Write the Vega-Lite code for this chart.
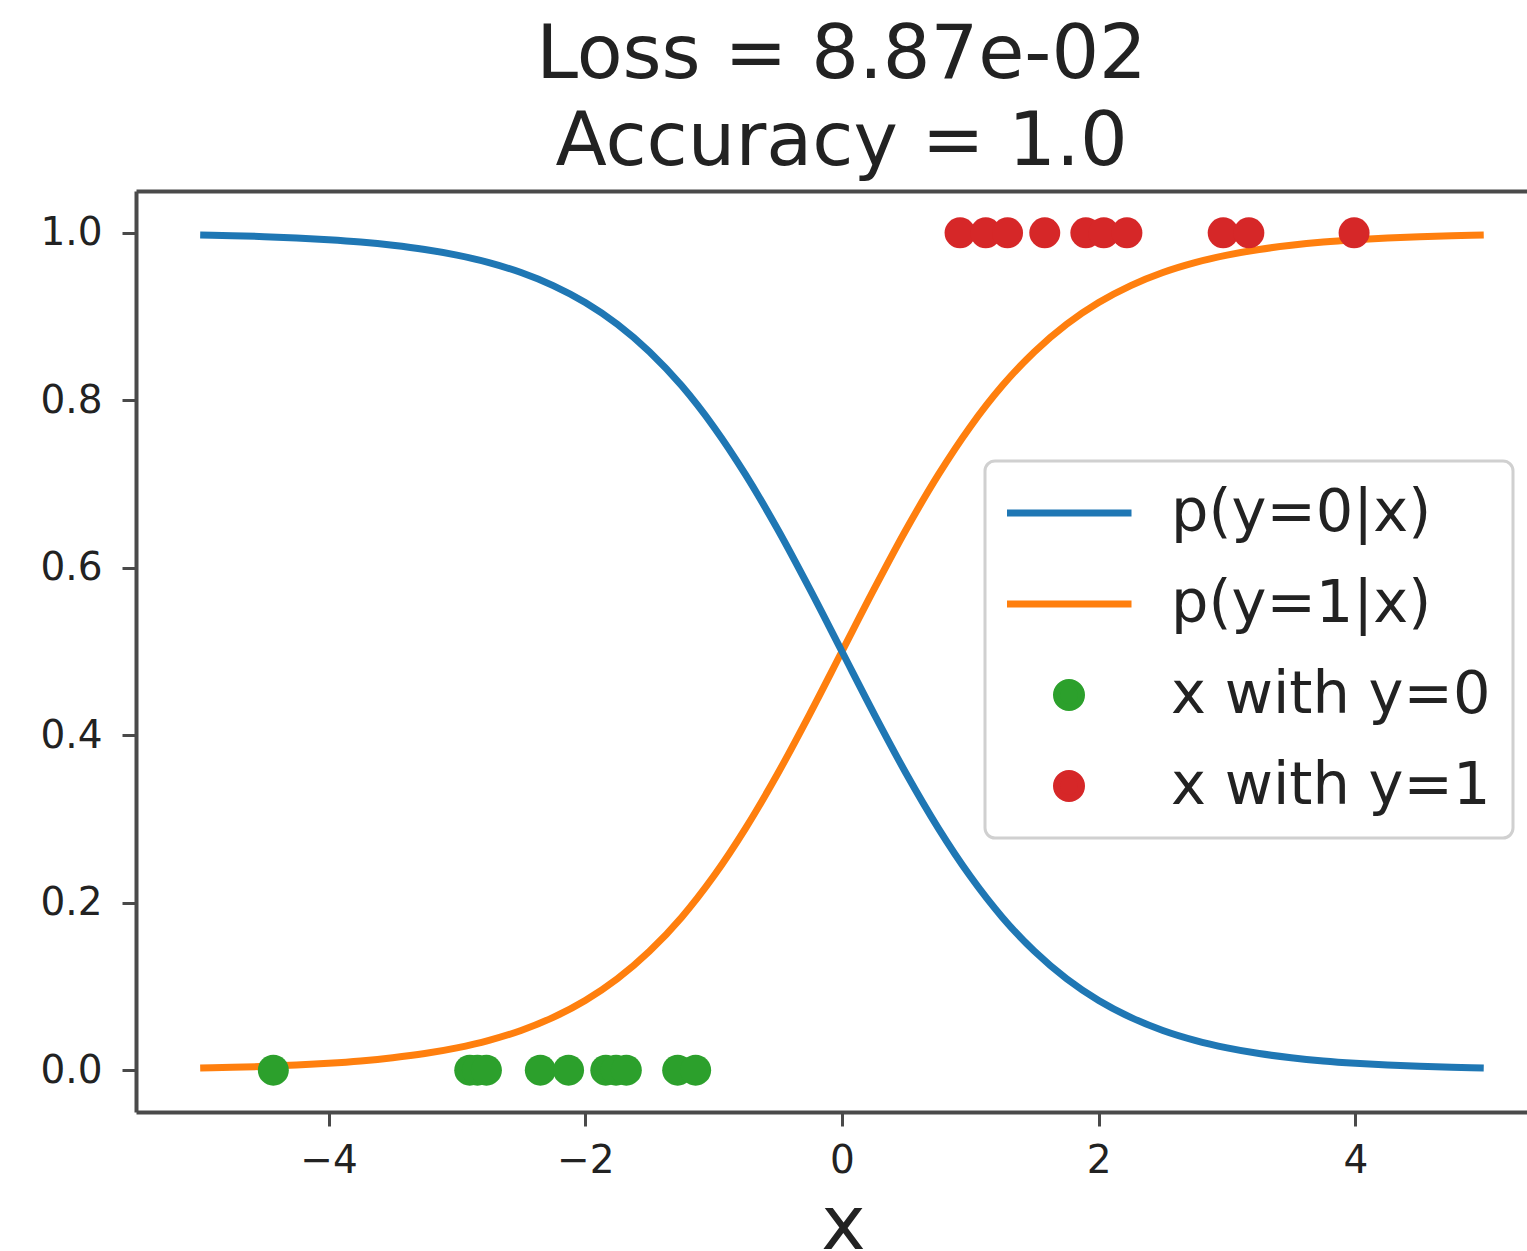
{
  "$schema": "https://vega.github.io/schema/vega-lite/v6.json",
  "width": 1391,
  "height": 921,
  "autosize": {"type": "none"},
  "padding": {"left": 136, "top": 191, "right": 0, "bottom": 139},
  "background": "white",
  "title": {
    "text": ["Loss = 8.87e-02", "Accuracy = 1.0"],
    "font": "DejaVu Sans",
    "fontSize": 75,
    "fontWeight": "normal",
    "color": "#222",
    "lineHeight": 87,
    "anchor": "middle",
    "frame": "group",
    "dx": 10,
    "offset": 10
  },
  "config": {
    "view": {"stroke": null},
    "axis": {
      "labelFont": "DejaVu Sans",
      "labelFontSize": 39,
      "labelColor": "#222",
      "domainColor": "#4a4a4a",
      "domainWidth": 4,
      "tickColor": "#4a4a4a",
      "tickWidth": 3,
      "tickSize": 14,
      "grid": false
    }
  },
  "datasets": {
    "curves": [
      {"x": -5, "p": 0.0025, "series": "p(y=1|x)"},
      {"x": -4.75, "p": 0.0033, "series": "p(y=1|x)"},
      {"x": -4.5, "p": 0.0045, "series": "p(y=1|x)"},
      {"x": -4.25, "p": 0.0061, "series": "p(y=1|x)"},
      {"x": -4, "p": 0.0082, "series": "p(y=1|x)"},
      {"x": -3.75, "p": 0.011, "series": "p(y=1|x)"},
      {"x": -3.5, "p": 0.0148, "series": "p(y=1|x)"},
      {"x": -3.25, "p": 0.0198, "series": "p(y=1|x)"},
      {"x": -3, "p": 0.0266, "series": "p(y=1|x)"},
      {"x": -2.75, "p": 0.0356, "series": "p(y=1|x)"},
      {"x": -2.5, "p": 0.0474, "series": "p(y=1|x)"},
      {"x": -2.25, "p": 0.063, "series": "p(y=1|x)"},
      {"x": -2, "p": 0.0832, "series": "p(y=1|x)"},
      {"x": -1.75, "p": 0.1091, "series": "p(y=1|x)"},
      {"x": -1.5, "p": 0.1419, "series": "p(y=1|x)"},
      {"x": -1.25, "p": 0.1824, "series": "p(y=1|x)"},
      {"x": -1, "p": 0.2315, "series": "p(y=1|x)"},
      {"x": -0.75, "p": 0.2891, "series": "p(y=1|x)"},
      {"x": -0.5, "p": 0.3543, "series": "p(y=1|x)"},
      {"x": -0.25, "p": 0.4256, "series": "p(y=1|x)"},
      {"x": 0, "p": 0.5, "series": "p(y=1|x)"},
      {"x": 0.25, "p": 0.5744, "series": "p(y=1|x)"},
      {"x": 0.5, "p": 0.6457, "series": "p(y=1|x)"},
      {"x": 0.75, "p": 0.7109, "series": "p(y=1|x)"},
      {"x": 1, "p": 0.7685, "series": "p(y=1|x)"},
      {"x": 1.25, "p": 0.8176, "series": "p(y=1|x)"},
      {"x": 1.5, "p": 0.8581, "series": "p(y=1|x)"},
      {"x": 1.75, "p": 0.8909, "series": "p(y=1|x)"},
      {"x": 2, "p": 0.9168, "series": "p(y=1|x)"},
      {"x": 2.25, "p": 0.937, "series": "p(y=1|x)"},
      {"x": 2.5, "p": 0.9526, "series": "p(y=1|x)"},
      {"x": 2.75, "p": 0.9644, "series": "p(y=1|x)"},
      {"x": 3, "p": 0.9734, "series": "p(y=1|x)"},
      {"x": 3.25, "p": 0.9802, "series": "p(y=1|x)"},
      {"x": 3.5, "p": 0.9852, "series": "p(y=1|x)"},
      {"x": 3.75, "p": 0.989, "series": "p(y=1|x)"},
      {"x": 4, "p": 0.9918, "series": "p(y=1|x)"},
      {"x": 4.25, "p": 0.9939, "series": "p(y=1|x)"},
      {"x": 4.5, "p": 0.9955, "series": "p(y=1|x)"},
      {"x": 4.75, "p": 0.9967, "series": "p(y=1|x)"},
      {"x": 5, "p": 0.9975, "series": "p(y=1|x)"},
      {"x": -5, "p": 0.9975, "series": "p(y=0|x)"},
      {"x": -4.75, "p": 0.9967, "series": "p(y=0|x)"},
      {"x": -4.5, "p": 0.9955, "series": "p(y=0|x)"},
      {"x": -4.25, "p": 0.9939, "series": "p(y=0|x)"},
      {"x": -4, "p": 0.9918, "series": "p(y=0|x)"},
      {"x": -3.75, "p": 0.989, "series": "p(y=0|x)"},
      {"x": -3.5, "p": 0.9852, "series": "p(y=0|x)"},
      {"x": -3.25, "p": 0.9802, "series": "p(y=0|x)"},
      {"x": -3, "p": 0.9734, "series": "p(y=0|x)"},
      {"x": -2.75, "p": 0.9644, "series": "p(y=0|x)"},
      {"x": -2.5, "p": 0.9526, "series": "p(y=0|x)"},
      {"x": -2.25, "p": 0.937, "series": "p(y=0|x)"},
      {"x": -2, "p": 0.9168, "series": "p(y=0|x)"},
      {"x": -1.75, "p": 0.8909, "series": "p(y=0|x)"},
      {"x": -1.5, "p": 0.8581, "series": "p(y=0|x)"},
      {"x": -1.25, "p": 0.8176, "series": "p(y=0|x)"},
      {"x": -1, "p": 0.7685, "series": "p(y=0|x)"},
      {"x": -0.75, "p": 0.7109, "series": "p(y=0|x)"},
      {"x": -0.5, "p": 0.6457, "series": "p(y=0|x)"},
      {"x": -0.25, "p": 0.5744, "series": "p(y=0|x)"},
      {"x": 0, "p": 0.5, "series": "p(y=0|x)"},
      {"x": 0.25, "p": 0.4256, "series": "p(y=0|x)"},
      {"x": 0.5, "p": 0.3543, "series": "p(y=0|x)"},
      {"x": 0.75, "p": 0.2891, "series": "p(y=0|x)"},
      {"x": 1, "p": 0.2315, "series": "p(y=0|x)"},
      {"x": 1.25, "p": 0.1824, "series": "p(y=0|x)"},
      {"x": 1.5, "p": 0.1419, "series": "p(y=0|x)"},
      {"x": 1.75, "p": 0.1091, "series": "p(y=0|x)"},
      {"x": 2, "p": 0.0832, "series": "p(y=0|x)"},
      {"x": 2.25, "p": 0.063, "series": "p(y=0|x)"},
      {"x": 2.5, "p": 0.0474, "series": "p(y=0|x)"},
      {"x": 2.75, "p": 0.0356, "series": "p(y=0|x)"},
      {"x": 3, "p": 0.0266, "series": "p(y=0|x)"},
      {"x": 3.25, "p": 0.0198, "series": "p(y=0|x)"},
      {"x": 3.5, "p": 0.0148, "series": "p(y=0|x)"},
      {"x": 3.75, "p": 0.011, "series": "p(y=0|x)"},
      {"x": 4, "p": 0.0082, "series": "p(y=0|x)"},
      {"x": 4.25, "p": 0.0061, "series": "p(y=0|x)"},
      {"x": 4.5, "p": 0.0045, "series": "p(y=0|x)"},
      {"x": 4.75, "p": 0.0033, "series": "p(y=0|x)"},
      {"x": 5, "p": 0.0025, "series": "p(y=0|x)"}
    ],
    "pts": [
      {"x": -4.43, "p": 0, "series": "x with y=0"},
      {"x": -2.9, "p": 0, "series": "x with y=0"},
      {"x": -2.84, "p": 0, "series": "x with y=0"},
      {"x": -2.77, "p": 0, "series": "x with y=0"},
      {"x": -2.35, "p": 0, "series": "x with y=0"},
      {"x": -2.13, "p": 0, "series": "x with y=0"},
      {"x": -1.84, "p": 0, "series": "x with y=0"},
      {"x": -1.76, "p": 0, "series": "x with y=0"},
      {"x": -1.68, "p": 0, "series": "x with y=0"},
      {"x": -1.28, "p": 0, "series": "x with y=0"},
      {"x": -1.14, "p": 0, "series": "x with y=0"},
      {"x": 0.92, "p": 1, "series": "x with y=1"},
      {"x": 1.12, "p": 1, "series": "x with y=1"},
      {"x": 1.29, "p": 1, "series": "x with y=1"},
      {"x": 1.58, "p": 1, "series": "x with y=1"},
      {"x": 1.9, "p": 1, "series": "x with y=1"},
      {"x": 2.04, "p": 1, "series": "x with y=1"},
      {"x": 2.22, "p": 1, "series": "x with y=1"},
      {"x": 2.97, "p": 1, "series": "x with y=1"},
      {"x": 3.17, "p": 1, "series": "x with y=1"},
      {"x": 3.99, "p": 1, "series": "x with y=1"}
    ]
  },
  "resolve": {"axis": {"x": "independent"}},
  "layer": [
    {
      "data": {"name": "curves"},
      "mark": {"type": "line", "strokeWidth": 7, "interpolate": "monotone"},
      "encoding": {
        "x": {
          "field": "x", "type": "quantitative",
          "scale": {"domain": [-5.5, 5.337], "nice": false, "zero": false},
          "axis": {
            "orient": "bottom",
            "values": [-4, -2, 0, 2, 4],
            "format": "d",
            "labelExpr": "replace(datum.label, '-', '\u2212')",
            "labelPadding": 15,
            "title": "x",
            "titleFont": "DejaVu Sans",
            "titleFontSize": 75,
            "titleFontWeight": "normal",
            "titleColor": "#222",
            "titleX": 707,
            "titleY": 136,
            "titleAlign": "center",
            "titleBaseline": "alphabetic"
          }
        },
        "y": {
          "field": "p", "type": "quantitative",
          "scale": {"domain": [-0.05, 1.05], "nice": false, "zero": false},
          "axis": {
            "values": [0, 0.2, 0.4, 0.6, 0.8, 1.0],
            "format": ".1f",
            "labelPadding": 20,
            "title": null
          }
        },
        "color": {
          "field": "series", "type": "nominal",
          "scale": {
            "domain": ["p(y=0|x)", "p(y=1|x)", "x with y=0", "x with y=1"],
            "range": ["#1f77b4", "#ff7f0e", "#2ca02c", "#d62728"]
          },
          "legend": {
            "title": null,
            "orient": "none",
            "legendX": 849,
            "legendY": 270,
            "direction": "vertical",
            "padding": 22,
            "fillColor": "white",
            "strokeColor": "#d0d0d0",
            "cornerRadius": 10,
            "labelFont": "DejaVu Sans",
            "labelFontSize": 59,
            "labelColor": "#222",
            "labelLimit": 600,
            "labelBaseline": "middle",
            "labelOffset": 36,
            "symbolOffset": -4,
            "symbolSize": 15625,
            "symbolStrokeWidth": 7,
            "clipHeight": 60,
            "rowPadding": 31,
            "encode": {
              "legend": {"update": {"strokeWidth": {"value": 3}}},
              "symbols": {
                "update": {
                  "shape": {"signal": "indexof(datum.value, 'with') >= 0 ? 'M-0.2,0A0.2,0.2,0,1,0,0.2,0A0.2,0.2,0,1,0,-0.2,0Z' : 'stroke'"},
                  "fill": {"signal": "indexof(datum.value, 'with') >= 0 ? scale('color', datum.value) : 'transparent'"},
                  "stroke": {"signal": "indexof(datum.value, 'with') >= 0 ? 'transparent' : scale('color', datum.value)"},
                  "opacity": {"value": 1}
                }
              }
            }
          }
        }
      }
    },
    {
      "data": {"name": "pts"},
      "mark": {"type": "point", "filled": true, "size": 961, "opacity": 1, "shape": "circle"},
      "encoding": {
        "x": {
          "field": "x", "type": "quantitative",
          "axis": {"orient": "top", "labels": false, "ticks": false, "title": null, "domainColor": "#4a4a4a", "domainWidth": 4}
        },
        "y": {"field": "p", "type": "quantitative"},
        "color": {"field": "series", "type": "nominal"}
      }
    }
  ]
}
